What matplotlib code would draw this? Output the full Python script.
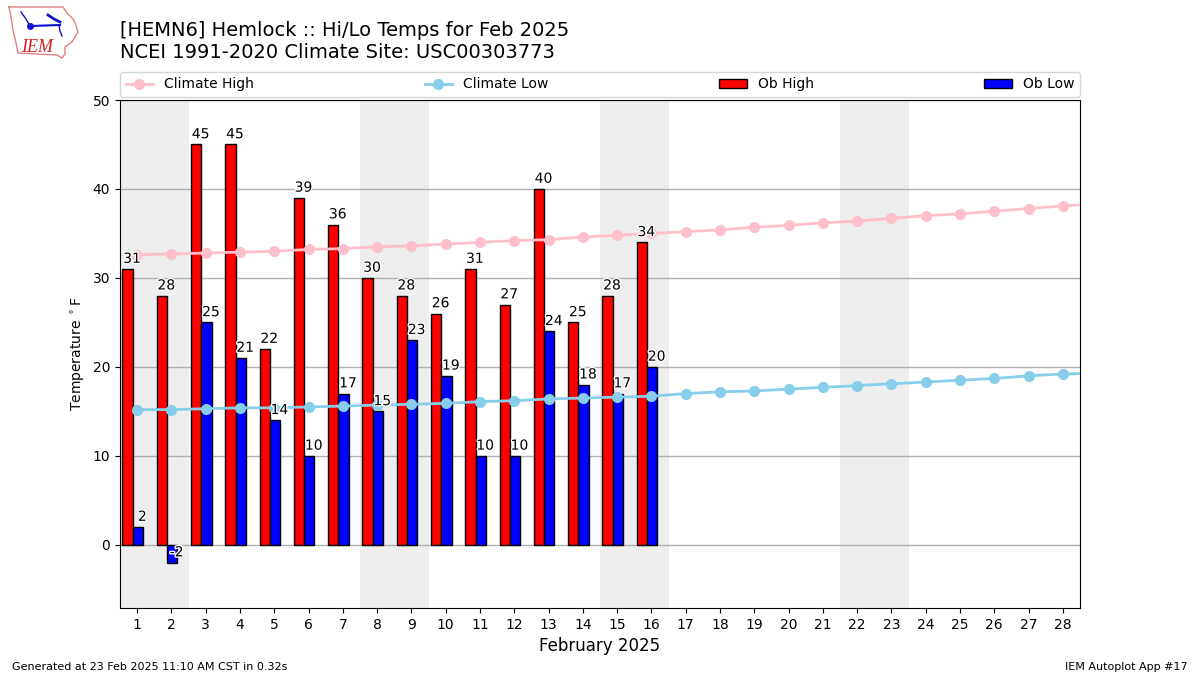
import matplotlib
matplotlib.use("Agg")
import matplotlib.pyplot as plt
import matplotlib.patheffects as PathEffects
import numpy as np

days = list(range(1, 29))
ob_high = [31, 28, 45, 45, 22, 39, 36, 30, 28, 26, 31, 27, 40, 25, 28, 34]
ob_low = [2, -2, 25, 21, 14, 10, 17, 15, 23, 19, 10, 10, 24, 18, 17, 20]
# the climate lines run one day past the end of the axis
climate_high = [32.6, 32.7, 32.8, 32.9, 33.0, 33.2, 33.3, 33.5, 33.6, 33.8,
                34.0, 34.2, 34.3, 34.6, 34.8, 35.0, 35.2, 35.4, 35.7, 35.9,
                36.2, 36.4, 36.7, 37.0, 37.2, 37.5, 37.8, 38.1, 38.3]
climate_low = [15.2, 15.2, 15.3, 15.4, 15.4, 15.5, 15.6, 15.7, 15.8, 15.9,
               16.1, 16.2, 16.4, 16.5, 16.6, 16.7, 17.0, 17.2, 17.3, 17.5,
               17.7, 17.9, 18.1, 18.3, 18.5, 18.7, 19.0, 19.2, 19.3]
weekends = [(0.5, 2.5), (7.5, 9.5), (14.5, 16.5), (21.5, 23.5)]

fig = plt.figure(figsize=(12, 6.75), dpi=100)
ax = fig.add_axes([120 / 1200, 1 - 608 / 675, 960 / 1200, 508 / 675])

for start, end in weekends:
    ax.axvspan(start, end, color="#eeeeee", lw=0, zorder=0)

x_high = np.arange(1, len(ob_high) + 1)
x_clim = np.arange(1, len(climate_high) + 1)
ax.plot(x_clim, climate_high, color="pink", marker="o", ms=7, lw=2,
        label="Climate High", zorder=3)
ax.plot(x_clim, climate_low, color="skyblue", marker="o", ms=7, lw=2,
        label="Climate Low", zorder=3)
ax.bar(x_high - 0.28, ob_high, width=0.3, color="r", edgecolor="k",
       label="Ob High", zorder=2)
ax.bar(x_high + 0.02, ob_low, width=0.3, color="b", edgecolor="k",
       label="Ob Low", zorder=2)

halo = [PathEffects.withStroke(linewidth=2, foreground="white")]
for x, high, low in zip(x_high, ob_high, ob_low):
    ax.text(x - 0.15, high + 0.7, str(high), ha="center", va="baseline",
            fontsize=10, path_effects=halo, zorder=4)
    ax.text(x + 0.15, low + 0.7, str(low), ha="center", va="baseline",
            fontsize=10, path_effects=halo, zorder=4)

ax.set_xlim(0.5, 28.5)
ax.set_ylim(-7.1, 50)
ax.set_xticks(days)
ax.set_yticks(range(0, 51, 10))
ax.set_axisbelow(True)
ax.grid(axis="y", color="#b0b0b0", lw=1)
ax.set_xlabel("February 2025", fontsize=12)
ax.set_ylabel(r"Temperature $^\circ$F")

fig.legend(*ax.get_legend_handles_labels(), ncol=4, mode="expand",
           loc="lower left", bbox_to_anchor=(120 / 1200, 1 - 97 / 675, 960 / 1200, 0.03),
           borderaxespad=0, fontsize=10)

fig.text(120 / 1200, 1 - 62 / 675,
         "[HEMN6] Hemlock :: Hi/Lo Temps for Feb 2025\n"
         "NCEI 1991-2020 Climate Site: USC00303773",
         fontsize=14, ha="left", va="bottom")
fig.text(12 / 1200, 1 - 670 / 675, "Generated at 23 Feb 2025 11:10 AM CST in 0.32s",
         fontsize=8, ha="left", va="baseline")
fig.text(1188 / 1200, 1 - 670 / 675, "IEM Autoplot App #17",
         fontsize=8, ha="right", va="baseline")

# IEM logo, drawn in reference pixels
logo = fig.add_axes([0, 1 - 70 / 675, 130 / 1200, 70 / 675])
logo.set_xlim(0, 130)
logo.set_ylim(70, 0)
logo.axis("off")
logo.plot([9, 11, 63, 67, 74, 78, 72, 65, 65, 62, 57, 18, 16, 13, 11, 9],
          [7, 7, 7, 13, 20, 32, 42, 47, 54, 58, 55, 53, 43, 30, 17, 7],
          color="#e08080", lw=1)
logo.plot([31, 60], [26, 25], color="#1010d0", lw=1.5)
logo.plot([21, 26, 30], [12, 19, 26], color="#1010d0", lw=1)
logo.plot([48, 54, 60], [15, 19, 22], color="#1010d0", lw=2)
logo.plot([59, 60, 62], [25, 31, 36], color="#1010d0", lw=1)
logo.plot([30], [26], color="#1010d0", marker="o", ms=4)
logo.text(21, 52, "IEM", color="#d02020", fontsize=13, style="italic",
          family="Liberation Serif", va="baseline")

fig.savefig("out.png", dpi=100)
